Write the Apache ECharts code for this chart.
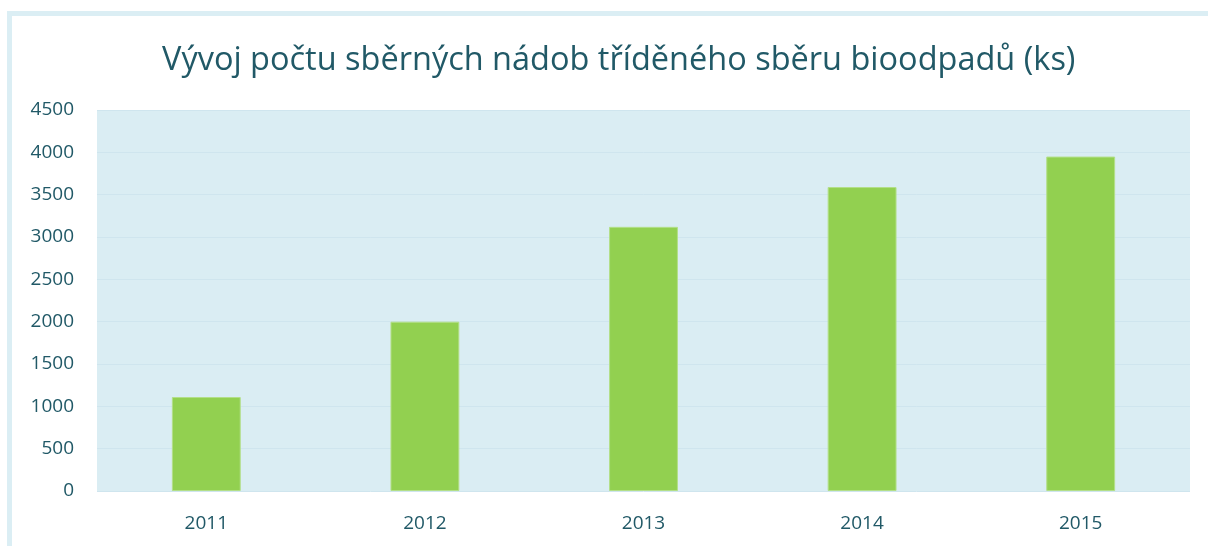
<!DOCTYPE html>
<html>
<head>
<meta charset="utf-8">
<script src="https://cdn.jsdelivr.net/npm/echarts@6/dist/echarts.min.js"></script>
<style>
  html, body { margin: 0; padding: 0; background: #fff; }
  #frame {
    position: absolute; left: 7px; top: 11px; width: 1220px; height: 560px;
    border: 5px solid #dbeef4; box-sizing: border-box;
  }
  #chart { position: absolute; left: 0; top: 0; width: 1208px; height: 546px; }
</style>
</head>
<body>
<div id="frame"></div>
<div id="chart"></div>
<script>
const years = ['2011', '2012', '2013', '2014', '2015'];
const containers = [1110, 2000, 3120, 3590, 3950];
const textColor = '#215967';

const chart = echarts.init(document.getElementById('chart'));
chart.setOption({
  animation: false,
  title: {
    text: 'Vývoj počtu sběrných nádob tříděného sběru bioodpadů (ks)',
    left: 157,
    top: 39,
    textStyle: { color: textColor, fontSize: 32.5, fontWeight: 'normal', fontFamily: 'Open Sans' }
  },
  grid: {
    left: 97, right: 18, top: 110, bottom: 55,
    show: true, backgroundColor: '#daedf3', borderWidth: 0
  },
  xAxis: {
    type: 'category',
    data: years,
    axisLine: { show: false },
    axisTick: { show: false },
    axisLabel: { color: textColor, fontSize: 19, fontFamily: 'Open Sans', margin: 23 }
  },
  yAxis: {
    type: 'value',
    min: 0, max: 4500, interval: 500,
    axisLine: { show: false },
    axisTick: { show: false },
    splitLine: { lineStyle: { color: '#cfe5ee', width: 1 } },
    axisLabel: {
      color: textColor, fontSize: 19, fontFamily: 'Open Sans', margin: 23,
      formatter: (v) => String(v)
    }
  },
  series: [{
    type: 'bar',
    data: containers,
    barWidth: '31.5%',
    itemStyle: { color: '#92d050', borderColor: '#b3df88', borderWidth: 1 }
  }]
});
</script>
</body>
</html>
